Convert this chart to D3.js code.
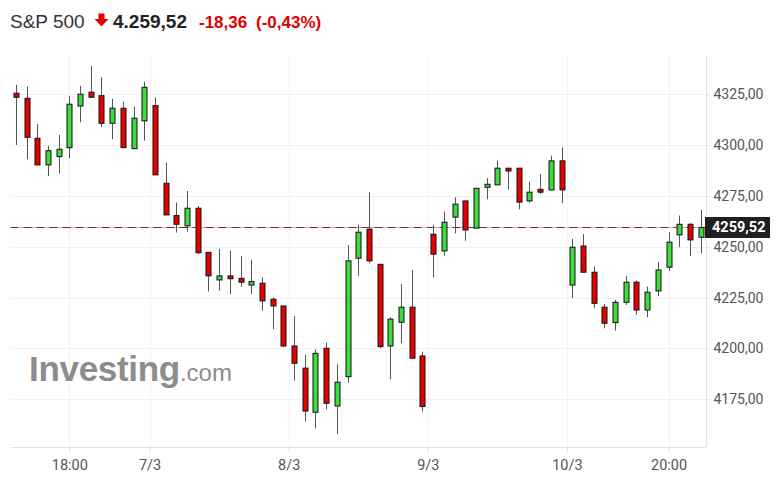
<!DOCTYPE html>
<html><head><meta charset="utf-8">
<script src="https://cdn.jsdelivr.net/npm/d3@7"></script>
<style>
html,body{margin:0;padding:0;background:#fff;}
svg{display:block;}
</style></head>
<body>
<svg id="chart" width="781" height="497"></svg>
<script>
// ---- Data (30-min candles, S&P 500, 4–10 March) ----
const opens = [4325.6,4323.1,4303.4,4290.3,4294.4,4298.8,4319.3,4326.1,4324.4,4310.8,4318.2,4298.3,4312.0,
4319.5,4281.3,4265.4,4260.3,4269.0,4247.3,4233.7,4235.7,4234.5,4231.2,4232.1,4224.2,4220.9,
4201.2,4190.3,4168.6,4200.1,4171.7,4186.1,4244.4,4258.7,4241.4,4201.2,4212.9,4220.3,4196.3,
4256.2,4248.0,4264.6,4272.6,4259.2,4279.3,4280.5,4288.7,4288.7,4272.6,4278.3,4278.0,4292.3,
4231.2,4250.4,4237.5,4220.3,4212.7,4222.7,4232.6,4218.9,4228.3,4240.0,4255.9,4261.1,4254.7];
const highs = [4329.7,4328.8,4310.5,4299.7,4305.1,4324.3,4329.2,4339.0,4333.5,4322.8,4321.5,4319.0,4331.3,
4323.6,4291.4,4271.8,4277.5,4270.1,4247.3,4249.0,4248.0,4245.5,4243.6,4235.0,4225.2,4220.9,
4216.0,4196.8,4199.6,4202.9,4192.2,4250.9,4260.8,4276.9,4241.4,4215.4,4231.7,4238.6,4198.4,
4260.8,4267.3,4274.4,4272.6,4278.8,4283.8,4292.3,4288.7,4288.7,4282.1,4285.9,4294.9,4299.0,
4253.9,4256.3,4240.3,4221.9,4223.9,4235.7,4233.4,4230.4,4242.4,4257.2,4265.4,4261.6,4268.2];
const lows = [4300.1,4293.1,4290.3,4284.9,4286.2,4293.6,4311.3,4323.6,4308.9,4303.0,4298.8,4298.3,4302.3,
4285.4,4265.7,4257.0,4257.5,4246.5,4228.0,4228.4,4226.7,4230.4,4226.7,4218.6,4209.5,4200.6,
4184.2,4164.0,4160.7,4170.1,4157.9,4183.2,4235.7,4241.9,4200.1,4184.8,4202.6,4195.2,4168.9,
4235.0,4245.7,4256.7,4253.0,4259.2,4273.4,4280.5,4278.3,4268.5,4271.8,4276.0,4278.0,4271.5,
4224.7,4237.5,4219.8,4209.9,4208.8,4221.4,4216.5,4215.4,4225.8,4238.1,4249.8,4245.5,4246.8];
const closes = [4323.6,4303.9,4290.3,4297.3,4298.0,4320.2,4325.1,4323.6,4310.8,4318.2,4298.8,4313.3,4328.5,
4285.4,4265.7,4261.1,4269.0,4247.1,4235.7,4235.7,4234.3,4232.6,4232.9,4223.4,4220.9,4201.2,
4192.7,4169.2,4197.6,4173.0,4183.4,4243.1,4257.2,4243.1,4200.9,4214.4,4220.3,4195.2,4171.4,
4246.4,4262.1,4271.0,4258.3,4278.8,4280.8,4288.7,4287.3,4272.0,4276.9,4276.9,4292.3,4278.0,
4249.8,4237.5,4222.2,4212.4,4222.7,4232.6,4218.9,4227.7,4238.6,4252.3,4261.1,4253.4,4259.5];

const xTickIndex = [5, 12.5, 25.5, 38.5, 51.5, 61];
const xTickLabels = ["18:00", "7/3", "8/3", "9/3", "10/3", "20:00"];
const yTicks = [4175, 4200, 4225, 4250, 4275, 4300, 4325];
const lastPrice = 4259.52;
const titleName = "S&P 500";
const titlePrice = "4.259,52";
const titleChange = "-18,36";
const titlePct = "(-0,43%)";

const candles = opens.map((o, i) => ({i, o, h: highs[i], l: lows[i], c: closes[i]}));

// ---- Layout ----
const svg = d3.select("#chart");
const L = 10.5, R = 706, T = 55, B = 447;
const x = d3.scaleLinear().domain([-0.5, candles.length - 0.5]).range([L, R]);
const y = d3.scaleLinear().domain([4151.5, 4344.4]).range([B, T]);
const fmt = v => d3.format(".2f")(v).replace(".", ",");

// grid
svg.append("g").selectAll("line").data(yTicks).join("line")
  .attr("x1", L).attr("x2", R).attr("y1", d => Math.round(y(d)) + 0.5).attr("y2", d => Math.round(y(d)) + 0.5)
  .attr("stroke", "#f1f1f1").attr("stroke-width", 1);
svg.append("g").selectAll("line").data(xTickIndex).join("line")
  .attr("x1", d => Math.round(x(d)) + 0.5).attr("x2", d => Math.round(x(d)) + 0.5).attr("y1", T).attr("y2", B)
  .attr("stroke", "#f3f3f3").attr("stroke-width", 1);

// watermark
const wm = svg.append("text").attr("x", 29).attr("y", 381)
  .attr("font-family", "Liberation Sans, Arial, sans-serif").attr("fill", "#8c8c8c");
wm.append("tspan").attr("font-size", 35).attr("font-weight", "bold").attr("letter-spacing", -0.3).text("Investing");
wm.append("tspan").attr("font-size", 24).attr("font-weight", "normal").text(".com");

// axes frame
const yAxis = d3.axisRight(y).tickValues(yTicks).tickSize(4).tickFormat(fmt);
const gy = svg.append("g").attr("transform", `translate(${R + 0.5},0)`).call(yAxis);
gy.select(".domain").attr("d", `M0,${T}V${B}`).attr("stroke", "#e2e2e2");
gy.selectAll(".tick line").attr("stroke", "#e2e2e2");
gy.selectAll(".tick text").attr("x", 7).attr("fill", "#555")
  .attr("font-family", "Roboto, sans-serif").attr("font-size", 14);

const xAxis = d3.axisBottom(x).tickValues(xTickIndex).tickSize(5)
  .tickFormat((d, k) => xTickLabels[k]);
const gx = svg.append("g").attr("transform", `translate(0,${B + 0.5})`).call(xAxis);
gx.select(".domain").attr("d", `M${L},0H${R}`).attr("stroke", "#e2e2e2");
gx.selectAll(".tick line").attr("stroke", "#e2e2e2");
gx.selectAll(".tick text").attr("y", 12).attr("fill", "#555")
  .attr("font-family", "Roboto, sans-serif").attr("font-size", 14.5);

// last price line
const lpY = Math.round(y(lastPrice)) + 0.5;
svg.append("line").attr("x1", L).attr("x2", R).attr("y1", lpY).attr("y2", lpY)
  .attr("stroke", "#f2a6a6").attr("stroke-width", 1);
svg.append("line").attr("x1", L).attr("x2", R).attr("y1", lpY).attr("y2", lpY)
  .attr("stroke", "#7a2b2b").attr("stroke-width", 1.2).attr("stroke-dasharray", "8,5");

// candles
const g = svg.append("g");
g.selectAll("line.wick").data(candles).join("line").attr("class", "wick")
  .attr("x1", d => Math.round(x(d.i)) + 0.5).attr("x2", d => Math.round(x(d.i)) + 0.5)
  .attr("y1", d => y(d.h)).attr("y2", d => y(d.l))
  .attr("stroke", "#555").attr("stroke-width", 1);
g.selectAll("rect.body").data(candles).join("rect").attr("class", "body")
  .attr("x", d => Math.round(x(d.i)) - 2)
  .attr("width", 5)
  .attr("y", d => y(Math.max(d.o, d.c)))
  .attr("height", d => Math.max(1.5, Math.abs(y(d.o) - y(d.c))))
  .attr("fill", d => d.c >= d.o ? "#3ddc3d" : "#e80000")
  .attr("stroke", "#111").attr("stroke-width", 1);

// last price tag
const tagY = y(lastPrice);
svg.append("rect").attr("x", R - 1).attr("y", tagY - 10.5).attr("width", 65).attr("height", 21).attr("fill", "#1f1f1f");
svg.append("text").attr("x", R + 6).attr("y", tagY + 5).attr("fill", "#fff")
  .attr("font-family", "Roboto, sans-serif").attr("font-weight", "bold").attr("font-size", 14.5)
  .text(fmt(lastPrice));

// header
const hdr = svg.append("text").attr("x", 10).attr("y", 28).attr("font-family", "Liberation Sans, Arial, sans-serif");
hdr.append("tspan").attr("font-size", 19).attr("fill", "#333").text(titleName);
svg.append("path").attr("d", "M98.5,13.5H104.5V19H108.5L101.5,26.5L94.5,19H98.5Z").attr("fill", "#e00000");
svg.append("text").attr("x", 113).attr("y", 28).attr("font-family", "Liberation Sans, Arial, sans-serif")
  .attr("font-size", 19).attr("font-weight", "bold").attr("fill", "#222").text(titlePrice);
svg.append("text").attr("x", 199).attr("y", 28).attr("font-family", "Liberation Sans, Arial, sans-serif")
  .attr("font-size", 17).attr("font-weight", "bold").attr("fill", "#e00000").text(titleChange);
svg.append("text").attr("x", 256).attr("y", 28).attr("font-family", "Liberation Sans, Arial, sans-serif")
  .attr("font-size", 17).attr("font-weight", "bold").attr("fill", "#e00000").text(titlePct);
</script>
</body></html>
